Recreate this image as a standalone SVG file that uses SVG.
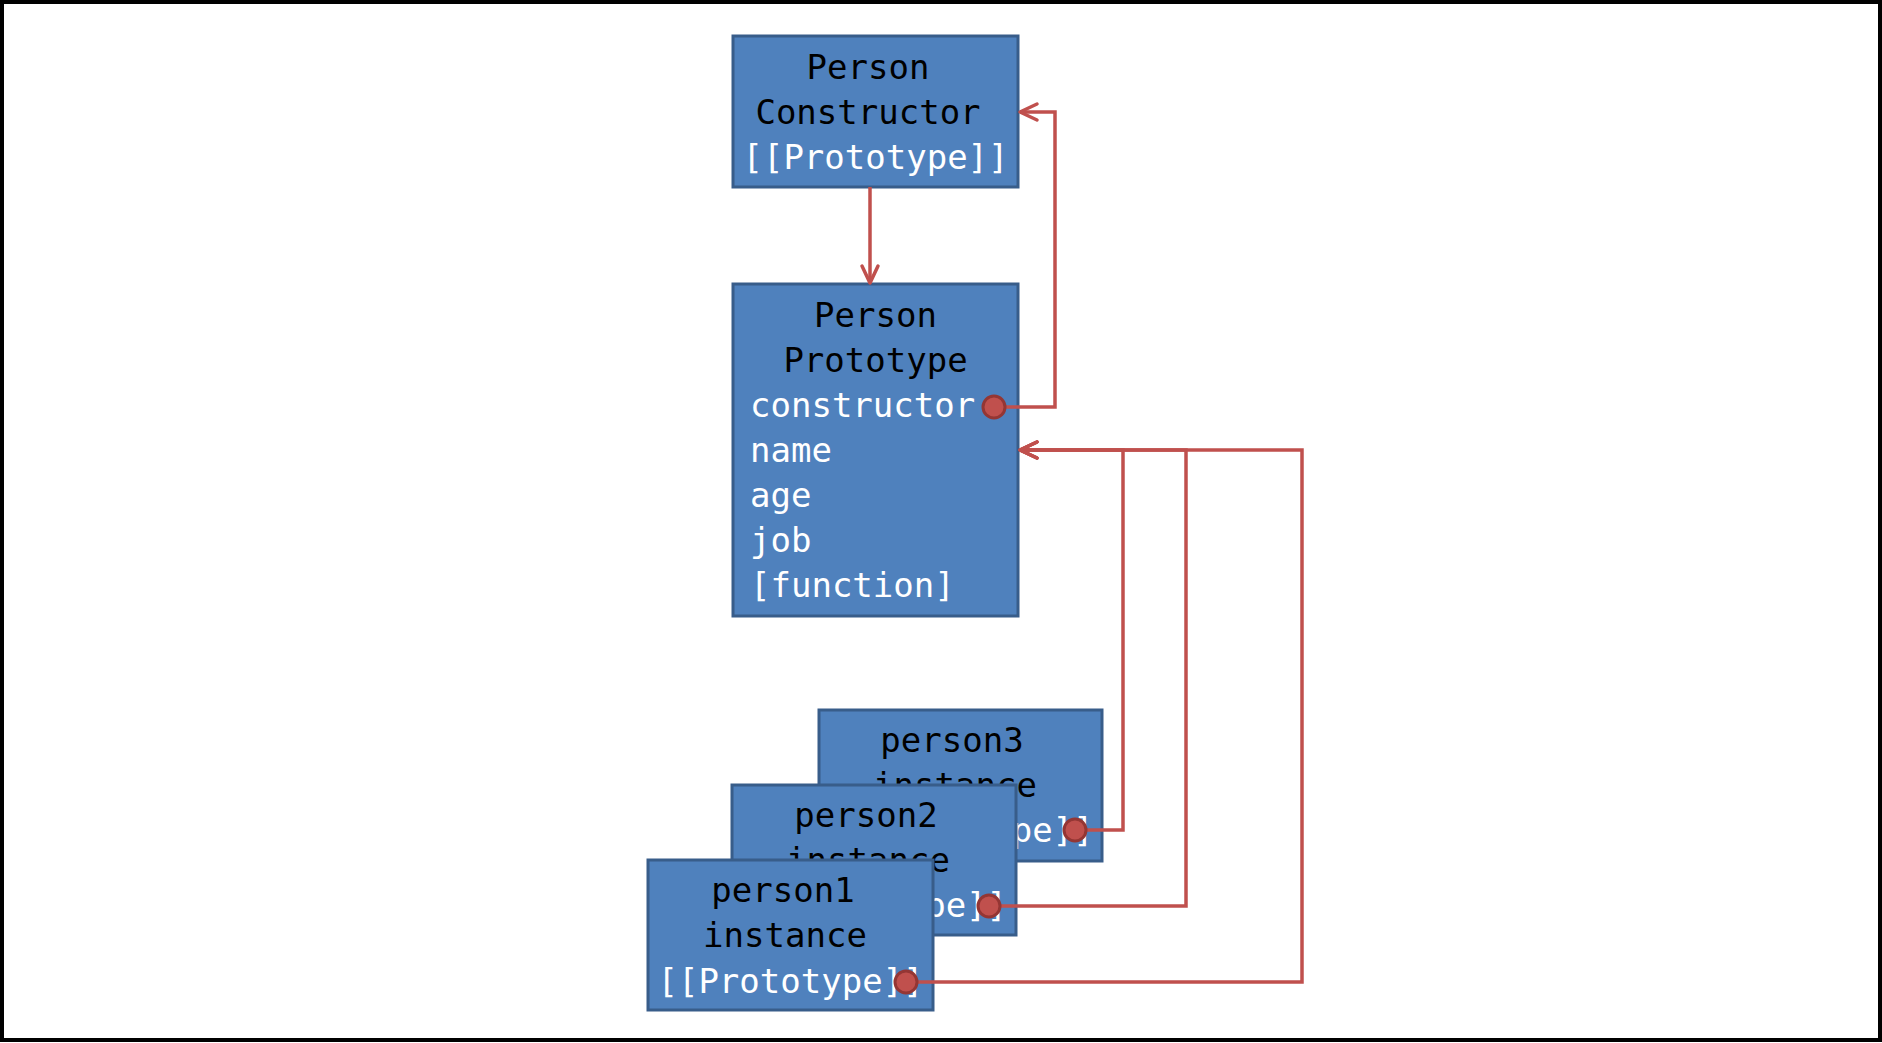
<svg xmlns="http://www.w3.org/2000/svg" width="1882" height="1043" viewBox="0 0 1882 1043">
<style>
.box{fill:#4f81bd;stroke:#385d8a;stroke-width:3}
.t{font-family:"DejaVu Sans Mono","Liberation Mono",monospace;font-size:34px}
.k{fill:#000}
.w{fill:#fff}
.c{text-anchor:middle}
.ln{fill:none;stroke:#c0504d;stroke-width:3.5}
.dot{fill:#c0504d;stroke:#943634;stroke-width:3}
</style>
<defs>
<marker id="ah" markerUnits="userSpaceOnUse" markerWidth="24" markerHeight="24" viewBox="-20 -12 24 24" refX="0" refY="0" orient="auto">
<path d="M-17,-8 L0,0 L-17,8" fill="none" stroke="#c0504d" stroke-width="3.5" stroke-linecap="round" stroke-linejoin="round"/>
</marker>
</defs>
<rect x="0" y="0" width="1882" height="1043" fill="#fff"/>
<rect x="2" y="2" width="1878" height="1038" fill="none" stroke="#000" stroke-width="4"/>

<g id="constructor">
<rect class="box" x="733" y="36" width="285" height="151"/>
<text class="t k c" x="868" y="79">Person</text>
<text class="t k c" x="868" y="124">Constructor</text>
<text class="t w c" x="875.5" y="169">[[Prototype]]</text>
</g>

<g id="prototype">
<rect class="box" x="733" y="284" width="285" height="332"/>
<text class="t k c" x="875.5" y="327">Person</text>
<text class="t k c" x="875.5" y="372">Prototype</text>
<text class="t w" x="750" y="417">constructor</text>
<text class="t w" x="750" y="462">name</text>
<text class="t w" x="750" y="507">age</text>
<text class="t w" x="750" y="552">job</text>
<text class="t w" x="750" y="597">[function]</text>
</g>

<g id="person3">
<rect class="box" x="819" y="710" width="283" height="151"/>
<text class="t k c" x="952" y="752">person3</text>
<text class="t k c" x="955" y="797">instance</text>
<text class="t w c" x="960.5" y="842">[[Prototype]]</text>
</g>

<g id="person2">
<rect class="box" x="732" y="785" width="284" height="150"/>
<text class="t k c" x="866" y="827">person2</text>
<text class="t k c" x="868" y="872">instance</text>
<text class="t w c" x="874" y="917">[[Prototype]]</text>
</g>

<g id="person1">
<rect class="box" x="648" y="860" width="285" height="150"/>
<text class="t k c" x="783" y="902">person1</text>
<text class="t k c" x="785" y="947">instance</text>
<text class="t w c" x="790.5" y="993">[[Prototype]]</text>
</g>

<g id="connectors">
<path class="ln" d="M870,187 L870,283" marker-end="url(#ah)"/>
<path class="ln" d="M994,407 L1055,407 L1055,112 L1020,112" marker-end="url(#ah)"/>
<path class="ln" d="M1075,830 L1123,830 L1123,450 L1020,450" marker-end="url(#ah)"/>
<path class="ln" d="M989,906 L1186,906 L1186,450 L1020,450" marker-end="url(#ah)"/>
<path class="ln" d="M906,982 L1302,982 L1302,450 L1020,450" marker-end="url(#ah)"/>
<circle class="dot" cx="994" cy="407" r="11"/>
<circle class="dot" cx="1075" cy="830" r="11"/>
<circle class="dot" cx="989" cy="906" r="11"/>
<circle class="dot" cx="906" cy="982" r="11"/>
</g>
</svg>
